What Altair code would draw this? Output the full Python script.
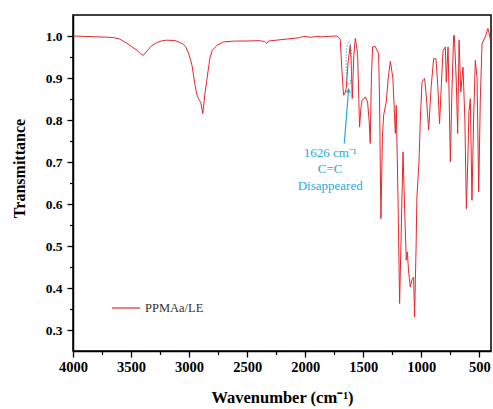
import altair as alt
import pandas as pd

# ---- spectrum values ----
wavenumber = [
    4000, 3900, 3800, 3700, 3650, 3600, 3550, 3500, 3450, 3420, 3394, 3370, 3330, 3280, 3230,
    3192, 3120, 3060, 3030, 3000, 2975, 2950, 2935, 2920, 2900, 2882, 2865, 2848, 2830, 2819,
    2800, 2760, 2704, 2600, 2500, 2400, 2350, 2330, 2315, 2250, 2150, 2050, 2015, 1950, 1900,
    1850, 1800, 1727, 1705, 1698, 1684, 1670, 1660, 1647, 1630, 1612, 1603, 1595, 1582, 1569,
    1560, 1549, 1532, 1520, 1511, 1495, 1483, 1463, 1450, 1440, 1430, 1420, 1397, 1380, 1368,
    1360, 1348, 1335, 1325, 1302, 1285, 1267, 1245, 1224, 1216, 1200, 1187, 1172, 1158, 1145,
    1130, 1120, 1110, 1095, 1080, 1067, 1058, 1045, 1038, 1020, 1009, 994, 972, 955, 937,
    915, 894, 874, 858, 843, 825, 813, 793, 785, 770, 760, 750, 738, 722, 716,
    700, 687, 675, 660, 641, 625, 612, 600, 590, 578, 564, 550, 535, 520, 506,
    492, 477, 449, 426, 415, 405,
]
transmittance = [
    1.000, 0.999, 0.998, 0.997, 0.996, 0.993, 0.985, 0.976, 0.966, 0.958, 0.954, 0.962, 0.975, 0.984, 0.989,
    0.990, 0.989, 0.982, 0.975, 0.955, 0.930, 0.885, 0.862, 0.851, 0.842, 0.815, 0.860, 0.894, 0.930, 0.950,
    0.966, 0.978, 0.986, 0.988, 0.988, 0.989, 0.987, 0.982, 0.988, 0.990, 0.993, 0.996, 0.999, 0.997, 0.999,
    0.998, 0.999, 1.000, 0.995, 0.990, 0.918, 0.859, 0.862, 0.875, 0.940, 0.978, 0.930, 0.851, 0.950, 0.994,
    0.980, 0.958, 0.783, 0.830, 0.847, 0.850, 0.855, 0.843, 0.800, 0.744, 0.900, 0.974, 0.975, 0.965, 0.958,
    0.850, 0.565, 0.760, 0.811, 0.843, 0.900, 0.940, 0.900, 0.768, 0.835, 0.600, 0.363, 0.550, 0.724, 0.600,
    0.466, 0.486, 0.440, 0.402, 0.420, 0.426, 0.331, 0.500, 0.617, 0.700, 0.800, 0.890, 0.899, 0.850, 0.776,
    0.880, 0.946, 0.946, 0.880, 0.791, 0.900, 0.966, 0.974, 0.890, 0.974, 0.850, 0.700, 0.855, 1.000, 1.002,
    0.900, 0.768, 0.990, 0.867, 0.926, 0.800, 0.589, 0.700, 0.820, 0.851, 0.609, 0.800, 0.942, 0.900, 0.629,
    0.850, 0.982, 0.998, 1.018, 1.005, 0.990,
]
series_name = "PPMAa/LE"

x_major = [4000, 3500, 3000, 2500, 2000, 1500, 1000, 500]
x_minor = [3750, 3250, 2750, 2250, 1750, 1250, 750]
y_major = [0.3, 0.4, 0.5, 0.6, 0.7, 0.8, 0.9, 1.0]
y_minor = [0.35, 0.45, 0.55, 0.65, 0.75, 0.85, 0.95]

# annotation anchors (data coordinates)
ellipse_wn = [1624]
ellipse_t = [0.935]
arrow_tail_wn = [1664]
arrow_tail_t = [0.744]
arrow_head_wn = [1627]
arrow_head_t = [0.871]
note_lines = ["1626 cm⁻¹", "C=C", "Disappeared"]
note_wn = [1785, 1785, 1785]
note_t = [0.722, 0.684, 0.644]

RED = "#e8262b"
BLUE = "#29a9e1"
FONT = "Liberation Serif"

df = pd.DataFrame({"wn": wavenumber, "T": transmittance, "series": series_name})

xs = alt.Scale(domain=[4000, 400], nice=False)
ys = alt.Scale(domain=[0.25, 1.05], nice=False)

line = alt.Chart(df).mark_line(strokeWidth=1).encode(
    x=alt.X("wn:Q", scale=xs, axis=alt.Axis(
        values=x_major, title="Wavenumber (cm⁻¹)", grid=False, orient="bottom",
        labelFont=FONT, labelFontSize=14.5, labelFontWeight="bold", labelColor="#000",
        labelFlush=False, labelOverlap=False,
        labelPadding=3, tickSize=6, tickWidth=1.3, tickColor="#000", domainColor="#000", domainWidth=1.5,
        titleFont=FONT, titleFontSize=16.5, titleFontWeight="bold", titleColor="#000",
        titleX=209, titleY=46, titleBaseline="middle", titleAlign="center", format="d")),
    y=alt.Y("T:Q", scale=ys, axis=alt.Axis(
        values=y_major, title="Transmittance", grid=False, orient="left", format=".1f",
        labelFont=FONT, labelFontSize=13.5, labelFontWeight="bold", labelColor="#000",
        labelFlush=False, labelOverlap=False,
        labelPadding=5, tickSize=6, tickWidth=1.3, tickColor="#000", domainColor="#000", domainWidth=1.5,
        titleFont=FONT, titleFontSize=16, titleFontWeight="bold", titleColor="#000",
        titleX=-54, titleY=153, titleAngle=270, titleBaseline="middle", titleAlign="center")),
    color=alt.Color("series:N", scale=alt.Scale(domain=[series_name], range=[RED]),
                    legend=alt.Legend(orient="none", legendX=38, legendY=278, title=None,
                                      symbolType="stroke", symbolSize=784, symbolStrokeWidth=1.2,
                                      labelFont=FONT, labelFontSize=12.5, labelColor="#333",
                                      labelOffset=4, padding=0)),
)

ell_df = pd.DataFrame({"wn": ellipse_wn, "T": ellipse_t})
ellipse = alt.Chart(ell_df).mark_point(
    shape="M0,-1A0.13,1 0 1,1 0,1A0.13,1 0 1,1 0,-1Z", size=1936, filled=False,
    stroke=BLUE, strokeWidth=0.9, strokeDash=[1.5, 1.5], opacity=1,
).encode(
    x=alt.X("wn:Q", scale=xs, axis=alt.Axis(values=x_minor, labels=False, domain=False, title=None,
                                             grid=False, orient="bottom", tickSize=3.5, tickWidth=1.2,
                                             tickColor="#000")),
    y=alt.Y("T:Q", scale=ys, axis=alt.Axis(values=y_minor, labels=False, domain=False, title=None,
                                            grid=False, orient="left", tickSize=3.5, tickWidth=1.2,
                                            tickColor="#000")),
)

arr_df = pd.DataFrame({"wn": arrow_tail_wn, "T": arrow_tail_t, "wn2": arrow_head_wn, "T2": arrow_head_t})
arrow = alt.Chart(arr_df).mark_rule(color=BLUE, strokeWidth=1.2).encode(
    x=alt.X("wn:Q", scale=xs, axis=None), x2="wn2:Q",
    y=alt.Y("T:Q", scale=ys, axis=None), y2="T2:Q",
)
head = alt.Chart(arr_df).mark_point(shape="triangle-up", filled=True, size=28, angle=5,
                                    color=BLUE, opacity=1).encode(
    x=alt.X("wn2:Q", scale=xs, axis=None),
    y=alt.Y("T2:Q", scale=ys, axis=None),
)

note_df = pd.DataFrame({"wn": note_wn, "T": note_t, "txt": note_lines})
note = alt.Chart(note_df).mark_text(font=FONT, fontSize=13, color=BLUE, align="center",
                                    baseline="middle").encode(
    x=alt.X("wn:Q", scale=xs, axis=None),
    y=alt.Y("T:Q", scale=ys, axis=None),
    text="txt:N",
)

chart = alt.layer(line, ellipse, arrow, head, note).resolve_axis(
    x="independent", y="independent"
).properties(
    width=418, height=336,
    autosize=alt.AutoSizeParams(type="none"),
    padding={"left": 73, "top": 15, "right": 2, "bottom": 58},
    background="white",
).configure_view(
    stroke="#000", strokeWidth=1.5
)

chart.save("out.html", embed_options={"renderer": "svg", "actions": False})
